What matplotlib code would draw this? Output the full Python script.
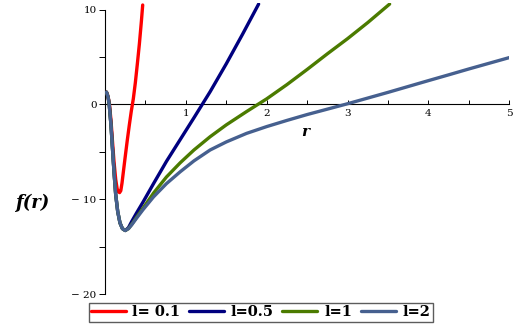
import matplotlib
matplotlib.use("Agg")
import matplotlib.pyplot as plt
from matplotlib.ticker import MultipleLocator, FixedLocator

# ---- data ----
labels = ["l= 0.1", "l=0.5", "l=1", "l=2"]
colors = ["#ff0000", "#00007f", "#4b7b00", "#46608f"]

r_l01 = [0.018, 0.03, 0.053, 0.074, 0.095, 0.111, 0.132, 0.15, 0.165, 0.18, 0.195,
         0.21, 0.227, 0.25, 0.275, 0.3, 0.325, 0.35, 0.375, 0.4, 0.425, 0.45, 0.466]
f_l01 = [1.3, 1.05, 0.2, -1.7, -4.2, -6.0, -7.9, -8.9, -9.2, -9.3, -9.1,
         -8.3, -7.1, -5.5, -3.8, -2.2, -0.7, 0.6, 2.3, 4.3, 6.4, 8.8, 10.5]

r_l05 = [0.018, 0.03, 0.04, 0.053, 0.074, 0.095, 0.111, 0.132, 0.157, 0.185, 0.215,
         0.25, 0.29, 0.33, 0.39, 0.47, 0.6, 0.76, 0.93, 1.1, 1.3, 1.5, 1.7, 1.9]
f_l05 = [1.3, 1.0, 0.7, -0.1, -2.2, -5.0, -7.1, -9.5, -11.3, -12.5, -13.1,
         -13.3, -13.0, -12.35, -11.45, -10.3, -8.35, -6.0, -3.7, -1.4, 1.35, 4.3, 7.4, 10.6]

r_l1 = [0.018, 0.03, 0.04, 0.053, 0.074, 0.095, 0.111, 0.132, 0.157, 0.185, 0.215,
        0.25, 0.29, 0.33, 0.39, 0.47, 0.6, 0.76, 0.93, 1.1, 1.3, 1.5, 1.75, 2.0,
        2.25, 2.5, 2.75, 3.0, 3.25, 3.52]
f_l1 = [1.3, 1.0, 0.7, -0.1, -2.2, -5.0, -7.1, -9.5, -11.3, -12.5, -13.1,
        -13.3, -13.1, -12.65, -11.9, -10.95, -9.35, -7.65, -6.15, -4.8, -3.4, -2.15, -0.75, 0.6,
        2.1, 3.7, 5.35, 6.95, 8.65, 10.6]

r_l2 = [0.018, 0.03, 0.04, 0.053, 0.074, 0.095, 0.111, 0.132, 0.157, 0.185, 0.215,
        0.25, 0.29, 0.33, 0.39, 0.47, 0.6, 0.76, 0.93, 1.1, 1.3, 1.5, 1.75, 2.0,
        2.25, 2.5, 2.75, 3.0, 3.25, 3.5, 3.75, 4.0, 4.25, 4.5, 4.75, 5.0]
f_l2 = [1.3, 1.0, 0.7, -0.1, -2.2, -5.0, -7.1, -9.5, -11.3, -12.5, -13.1,
        -13.3, -13.1, -12.7, -12.0, -11.1, -9.75, -8.35, -7.1, -5.95, -4.8, -3.95, -3.05, -2.33,
        -1.68, -1.06, -0.49, 0.08, 0.68, 1.28, 1.9, 2.52, 3.13, 3.75, 4.35, 4.95]

x_major = [1, 2, 3, 4, 5]
y_major = [-20, -10, 0, 10]
y_major_labels = ["\u2212 20", "\u2212 10", "0", "10"]

serif_d = ["DejaVu Serif"]

fig = plt.figure(figsize=(5.23, 3.27), dpi=100)
ax = fig.add_axes([0.2008, 0.1009, 0.7730, 0.8896])
ax.set_xlim(0, 5.0)
ax.set_ylim(-20, 10.7)

series = [(r_l01, f_l01), (r_l05, f_l05), (r_l1, f_l1), (r_l2, f_l2)]
for (rr, ff), c, lab in zip(series, colors, labels):
    ax.plot(rr, ff, color=c, lw=2.4, label=lab, solid_capstyle="round",
            solid_joinstyle="round")

# Maple-like axes crossing at origin
for s in ["top", "right"]:
    ax.spines[s].set_visible(False)
ax.spines["left"].set_position(("data", 0))
ax.spines["bottom"].set_position(("data", 0))
ax.spines["left"].set_bounds(-20, 10)
ax.spines["bottom"].set_bounds(0, 5)
for s in ["left", "bottom"]:
    ax.spines[s].set_linewidth(0.8)
    ax.spines[s].set_zorder(0)

ax.xaxis.set_major_locator(FixedLocator(x_major))
ax.xaxis.set_minor_locator(MultipleLocator(0.5))
ax.yaxis.set_major_locator(FixedLocator(y_major))
ax.yaxis.set_minor_locator(MultipleLocator(5))
ax.tick_params(axis="x", which="both", direction="in", length=3, width=0.7,
               pad=3, labelsize=7.5)
ax.tick_params(axis="y", which="both", direction="out", length=4, width=0.7,
               pad=2, labelsize=7.5)
ax.set_yticklabels(y_major_labels)
for t in ax.get_xticklabels() + ax.get_yticklabels():
    t.set_family(serif_d)

fig.text(305 / 523, 1 - 132 / 327, "r", family=serif_d, fontsize=11,
         fontweight="bold", style="italic", ha="center", va="center")
fig.text(32 / 523, 1 - 203 / 327, "f(r)", family=serif_d, fontsize=13,
         fontweight="bold", style="italic", ha="center", va="center")

leg = fig.legend(loc="center", bbox_to_anchor=(260.5 / 523, 1 - 312.5 / 327), ncol=4,
                 prop={"family": serif_d, "weight": "bold", "size": 10.5},
                 frameon=True, fancybox=False, edgecolor="#333333",
                 handlelength=2.4, handletextpad=0.45, columnspacing=0.6,
                 borderpad=0.15, borderaxespad=0)
leg.get_frame().set_linewidth(1.0)

fig.savefig("out.png", dpi=100)
